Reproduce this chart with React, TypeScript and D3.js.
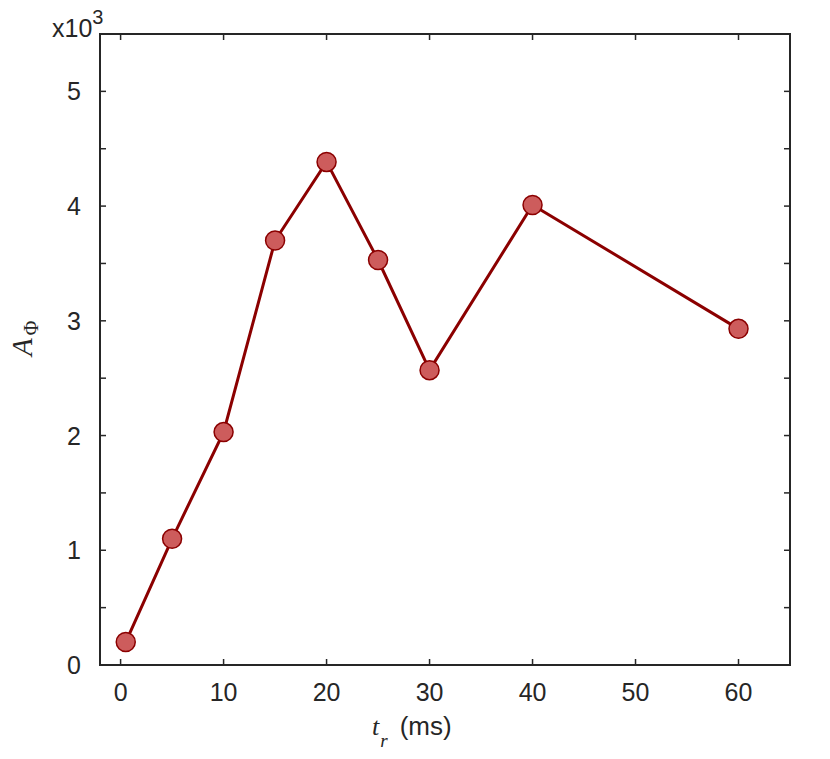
import React from "react";
import * as d3 from "d3";

const tr = [0.5, 5, 10, 15, 20, 25, 30, 40, 60];
const aPhi = [0.2, 1.1, 2.03, 3.7, 4.385, 3.53, 2.57, 4.01, 2.93];
const xTicks = [0, 10, 20, 30, 40, 50, 60];
const yMajor = [0, 1, 2, 3, 4, 5];
const yMinor = [0.5, 1.5, 2.5, 3.5, 4.5];

const W = 830, H = 759;
const L = 100, R = 790, T = 34, B = 665;

export default function App() {
  const x = d3.scaleLinear().domain([-2, 65]).range([L, R]);
  const y = d3.scaleLinear().domain([0, 5.5]).range([B, T]);
  const line = d3.line<number>().x((_, i) => x(tr[i])).y((d) => y(d));
  const ax = "#262626";
  const font = "Liberation Sans, Arial, Helvetica, sans-serif";
  const serif = "Liberation Serif, Times New Roman, serif";
  const tk = 6;
  return (
    <svg width={W} height={H} style={{ position: "absolute", left: 0, top: 0 }}>
      <rect x={0} y={0} width={W} height={H} fill="#fff" />
      <g stroke={ax} strokeWidth={1.5}>
        {xTicks.map((t) => (
          <g key={"x" + t}>
            <line x1={x(t)} x2={x(t)} y1={B} y2={B - tk} />
            <line x1={x(t)} x2={x(t)} y1={T} y2={T + tk} />
          </g>
        ))}
        {[...yMajor, ...yMinor].map((t) => (
          <g key={"y" + t}>
            <line x1={L} x2={L + tk} y1={y(t)} y2={y(t)} />
            <line x1={R} x2={R - tk} y1={y(t)} y2={y(t)} />
          </g>
        ))}
        <rect x={L} y={T} width={R - L} height={B - T} fill="none" strokeWidth={2} />
      </g>
      <g fontFamily={font} fontSize={25} fill={ax}>
        {xTicks.map((t) => (
          <text key={"xl" + t} x={x(t)} y={B + 36} textAnchor="middle">{t}</text>
        ))}
        {yMajor.map((t) => (
          <text key={"yl" + t} x={L - 19} y={y(t) + 9} textAnchor="end">{t}</text>
        ))}
        <text x={52} y={37}>x10<tspan fontSize={20} dy={-13}>3</tspan></text>
      </g>
      <path d={line(aPhi) || ""} fill="none" stroke="#8b0000" strokeWidth={3} />
      {aPhi.map((v, i) => (
        <circle key={i} cx={x(tr[i])} cy={y(v)} r={9.5} fill="#cd5c5c" stroke="#8b0000" strokeWidth={1.5} />
      ))}
      <g transform={`translate(32, 356) rotate(-90)`} fill={ax}>
        <text fontFamily={serif} fontStyle="italic" fontSize={29} x={0} y={0}>
          A
          <tspan fontStyle="normal" fontSize={20} dy={6} dx={3}>Φ</tspan>
        </text>
      </g>
      <text x={372} y={735} fill={ax} fontSize={26}>
        <tspan fontFamily={serif} fontStyle="italic" fontSize={26}>t</tspan>
        <tspan fontFamily={serif} fontStyle="italic" fontSize={19} dy={12} dx={1}>r</tspan>
        <tspan fontFamily={font} dy={-12} dx={12}>(ms)</tspan>
      </text>
    </svg>
  );
}
